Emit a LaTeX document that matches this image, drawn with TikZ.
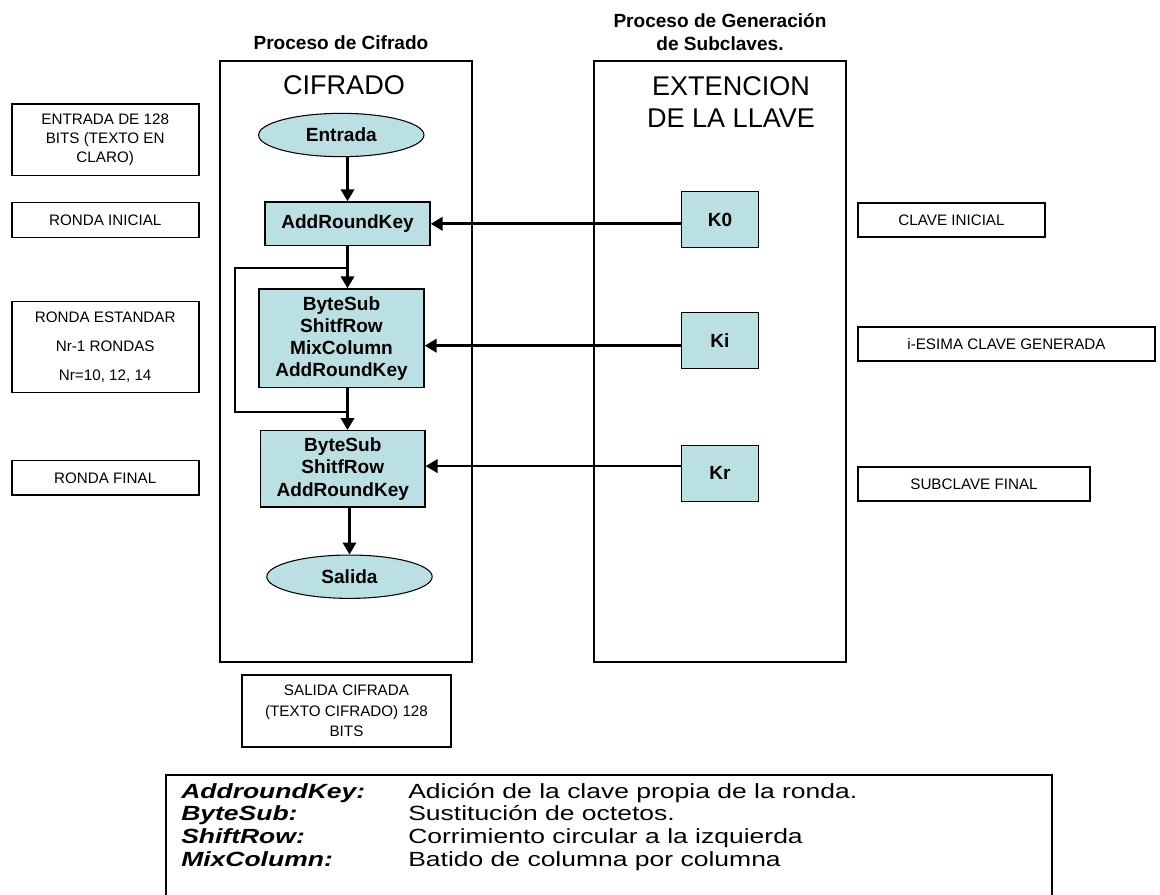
\documentclass[tikz,border=0pt]{standalone}
\usepackage{fontspec}
\setmainfont{Liberation Sans}
\usetikzlibrary{arrows.meta,shapes.geometric}
\definecolor{boxfill}{RGB}{187,224,227}
\newcommand{\wide}[1]{\scalebox{1.29}[1]{#1}}
\begin{document}
\begin{tikzpicture}[x=0.75pt,y=-0.75pt,
  panel/.style={draw,line width=1.3pt,inner sep=0pt,minimum width=189pt,minimum height=450.75pt},
  lbl/.style={draw,line width=1.2pt,inner sep=0pt,align=center,font=\fontsize{11.4}{14.3}\selectfont},
  flow/.style={draw,line width=1pt,fill=boxfill,inner sep=0pt,align=center,font=\bfseries\fontsize{14.3}{16.6}\selectfont},
  oval/.style={ellipse,draw,line width=0.8pt,fill=boxfill,inner sep=0pt,minimum width=124pt,minimum height=32.5pt,font=\bfseries\fontsize{14.3}{16.6}\selectfont},
  kbox/.style={flow,minimum width=58.1pt,minimum height=41.8pt},
  arr/.style={-{Triangle[length=9pt,width=10pt]},line width=2pt},
  loopline/.style={line width=1.3pt},
  ttl/.style={font=\bfseries\fontsize{14.3}{17.5}\selectfont,align=center},
  big/.style={font=\fontsize{20.3}{24}\selectfont,align=center},
  tkey/.style={anchor=base west,inner sep=0pt,font=\bfseries\itshape\fontsize{15.4}{18}\selectfont},
  tval/.style={anchor=base west,inner sep=0pt,font=\fontsize{15.4}{18}\selectfont}]
\useasboundingbox (0,0) rectangle (1160,894);

% titles
\node[ttl] (t1) at (341,43) {Proceso de Cifrado};
\node[ttl] (t2) at (720,32) {Proceso de Generación\\de Subclaves.};

% panels
\node[panel] (cif) at (346,361.5) {};
\node[panel] (ext) at (720,361.5) {};
\node[big] (cift) at (344,85) {CIFRADO};
\node[big] (extt) at (731,102) {EXTENCION\\DE LA LLAVE};

% flow
\node[oval] (entrada) at (341.3,135) {Entrada};
\node[flow,minimum width=123.75pt,minimum height=32.8pt] (ark) at (347.5,223.8) {AddRoundKey};
\node[flow,minimum width=123.75pt,minimum height=74pt] (box2) at (341.5,338.3) {ByteSub\\ShitfRow\\MixColumn\\AddRoundKey};
\node[flow,minimum width=123.2pt,minimum height=57.2pt,font=\bfseries\fontsize{14.3}{16.9}\selectfont] (box3) at (342.8,468.8) {ByteSub\\ShitfRow\\AddRoundKey};
\node[oval] (salida) at (349.5,576.7) {Salida};

% keys
\node[kbox] (k0) at (720,219.5) {K0};
\node[kbox] (ki) at (720,340.5) {Ki};
\node[kbox] (kr) at (720,473.4) {Kr};

% left labels
\node[lbl,minimum width=140.25pt,minimum height=53.8pt] (entr) at (105.2,139.8) {ENTRADA DE 128\\BITS (TEXTO EN\\CLARO)};
\node[lbl,minimum width=140.25pt,minimum height=26.25pt] (rini) at (105.2,219.8) {RONDA INICIAL};
\node[lbl,minimum width=140.25pt,minimum height=68pt,font=\fontsize{11.4}{21.75}\selectfont] (rest) at (105.2,347) {RONDA ESTANDAR\\Nr-1 RONDAS\\Nr=10, 12, 14};
\node[lbl,minimum width=140.25pt,minimum height=25.7pt] (rfin) at (105.2,477.8) {RONDA FINAL};
\node[lbl,minimum width=156.75pt,minimum height=54pt,font=\fontsize{11.4}{15.4}\selectfont] (salc) at (346.5,711) {SALIDA CIFRADA\\(TEXTO CIFRADO) 128\\BITS};

% right labels
\node[lbl,minimum width=140.25pt,minimum height=25.5pt] (cini) at (951.5,220) {CLAVE INICIAL};
\node[lbl,minimum width=222.75pt,minimum height=25.5pt] (cies) at (1006.5,344) {i-ESIMA CLAVE GENERADA};
\node[lbl,minimum width=174pt,minimum height=25.5pt] (csub) at (974,484) {SUBCLAVE FINAL};

% connectors
\coordinate (j1) at (347.5,268);
\coordinate (lt) at (235,268);
\coordinate (lb) at (235,411.7);
\coordinate (j2) at (347.5,411.7);
\draw[arr] (entrada.south -| ark.north) -- (ark.north);
\draw[arr] (ark.south) -- (ark.south |- box2.north);
\draw[loopline] (j1) -- (lt) -- (lb) -- (j2);
\draw[arr] (box2.south -| j1) -- (box3.north -| j1);
\draw[arr] (box3.south -| salida.north) -- (salida.north);
\draw[arr] (k0.west |- ark.east) -- (ark.east);
\draw[arr] ([yshift=-3.9pt]ki.west) -- ([yshift=-3.9pt]ki.west -| box2.east);
\draw[arr] ([yshift=5.5pt]kr.west) -- ([yshift=5.5pt]kr.west -| box3.east);

% table
\node[draw,line width=1.5pt,minimum width=664.5pt,minimum height=90.75pt,inner sep=0pt] (tbl) at (609,835.5) {};
\node[tkey] (ka) at (181,798) {\wide{AddroundKey:}};
\node[tkey] (kb) at (181,820.5) {\wide{ByteSub:}};
\node[tkey] (kc) at (181,843.5) {\wide{ShiftRow:}};
\node[tkey] (kd) at (181,866) {\wide{MixColumn:}};
\node[tval] (va) at (408,798) {\wide{Adición de la clave propia de la ronda.}};
\node[tval] (vb) at (408,820.5) {\wide{Sustitución de octetos.}};
\node[tval] (vc) at (408,843.5) {\wide{Corrimiento circular a la izquierda}};
\node[tval] (vd) at (408,866) {\wide{Batido de columna por columna}};
\end{tikzpicture}
\end{document}
